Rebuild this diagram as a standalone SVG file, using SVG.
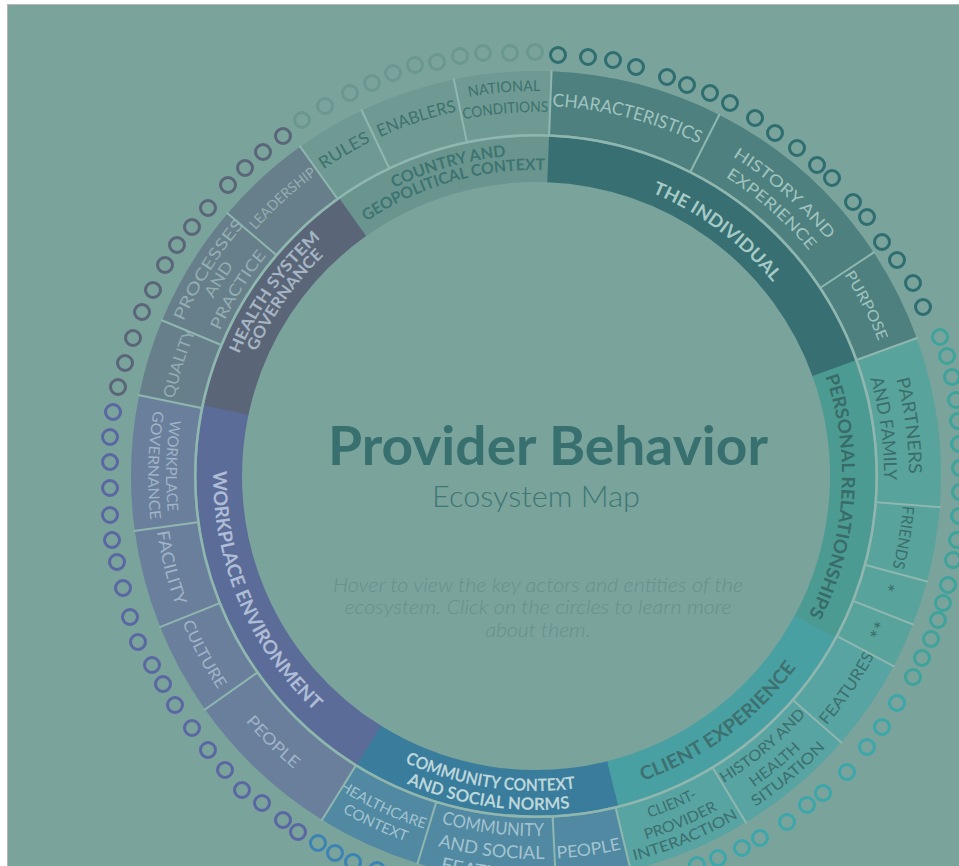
<svg xmlns="http://www.w3.org/2000/svg" width="959" height="866" viewBox="0 0 959 866">
<style>
  .arc{fill:none}
  .in{stroke-width:45.5}
  .out{stroke-width:63}
  .sep{stroke:#8fb7b0;stroke-width:2}
  .dot{fill:none;stroke-width:3}
  text{font-family:Lato,'Open Sans','DejaVu Sans',sans-serif;text-anchor:middle}
  .lb{font-weight:700}
  .lo{font-weight:400}
  .d-country{stroke:#6a9891}
  .d-ind{stroke:#2e6d70}
  .d-pers{stroke:#3ea39a}
  .d-client{stroke:#3ca7aa}
  .d-comm{stroke:#3b83b2}
  .d-work{stroke:#5a67a2}
  .d-health{stroke:#5a6579}
</style>
<defs>
  <!-- label baselines: clockwise arcs centred on 12 o'clock (O) and counter-clockwise arcs centred on 6 o'clock (I) -->
  <path id="O306" d="M271,323 A306,306 0 0 1 801,323"/>
  <path id="O321" d="M258,315.5 A321,321 0 0 1 814,315.5"/>
  <path id="O348" d="M234.6,302 A348,348 0 0 1 837.4,302"/>
  <path id="O354" d="M229.4,299 A354,354 0 0 1 842.6,299"/>
  <path id="O360" d="M224.2,296 A360,360 0 0 1 847.8,296"/>
  <path id="O364" d="M220.8,294 A364,364 0 0 1 851.2,294"/>
  <path id="O368" d="M217.3,292 A368,368 0 0 1 854.7,292"/>
  <path id="O370" d="M215.6,291 A370,370 0 0 1 856.4,291"/>
  <path id="O373" d="M213,289.5 A373,373 0 0 1 859,289.5"/>
  <path id="O375" d="M211.2,288.5 A375,375 0 0 1 860.8,288.5"/>
  <path id="O385" d="M202.6,283.5 A385,385 0 0 1 869.4,283.5"/>
  <path id="I315" d="M263.2,633.5 A315,315 0 0 0 808.8,633.5"/>
  <path id="I323" d="M256.3,637.5 A323,323 0 0 0 815.7,637.5"/>
  <path id="I334" d="M246.8,643 A334,334 0 0 0 825.2,643"/>
  <path id="I360" d="M224.2,656 A360,360 0 0 0 847.8,656"/>
  <path id="I370" d="M215.6,661 A370,370 0 0 0 856.4,661"/>
  <path id="I380" d="M206.9,666 A380,380 0 0 0 865.1,666"/>
  <path id="I383" d="M204.3,667.5 A383,383 0 0 0 867.7,667.5"/>
  <path id="I388" d="M200,670 A388,388 0 0 0 872,670"/>
  <path id="I397" d="M192.2,674.5 A397,397 0 0 0 879.8,674.5"/>
  <path id="I405" d="M185.3,678.5 A405,405 0 0 0 886.7,678.5"/>
  <line id="tick" x1="536" y1="134.5" x2="536" y2="70"/>
</defs>

<!-- page frame -->
<rect width="959" height="866" fill="#ffffff"/>
<rect x="7" y="4" width="952" height="862" fill="#b5b5b5"/>
<rect x="8" y="5" width="951" height="861" fill="#7aa39c"/>

<!-- COUNTRY AND GEOPOLITICAL CONTEXT -->
<g id="sector-country">
  <g id="country-core">
    <circle class="arc in" cx="536" cy="476" r="316.75" stroke="#6a958f" stroke-dasharray="209.4 3000" transform="rotate(234.5 536 476)"/>
    <text class="lb" font-size="16" fill="#3e7470" transform="rotate(-15.8 536 476)"><textPath href="#O321" startOffset="50%" textLength="117" lengthAdjust="spacingAndGlyphs">COUNTRY AND</textPath></text>
    <text class="lb" font-size="16" fill="#3e7470" transform="rotate(-16 536 476)"><textPath href="#O306" startOffset="50%" textLength="189" lengthAdjust="spacingAndGlyphs">GEOPOLITICAL CONTEXT</textPath></text>
  </g>
  <g id="rules">
    <circle class="arc out" cx="536" cy="476" r="373.5" stroke="#6e9a93" stroke-dasharray="66.8 3000" transform="rotate(234.4 536 476)"/>
    <text class="lo" font-size="17" fill="#3e726d" transform="rotate(-30.5 536 476)"><textPath href="#O373" startOffset="50%" textLength="55" lengthAdjust="spacingAndGlyphs">RULES</textPath></text>
  </g>
  <g id="enablers">
    <circle class="arc out" cx="536" cy="476" r="373.5" stroke="#6e9a93" stroke-dasharray="91 3000" transform="rotate(244.5 536 476)"/>
    <text class="lo" font-size="17" fill="#3e726d" transform="rotate(-18.5 536 476)"><textPath href="#O373" startOffset="50%" textLength="81" lengthAdjust="spacingAndGlyphs">ENABLERS</textPath></text>
  </g>
  <g id="national-conditions">
    <circle class="arc out" cx="536" cy="476" r="373.5" stroke="#6e9a93" stroke-dasharray="91.6 3000" transform="rotate(258.3 536 476)"/>
    <text class="lo" font-size="15" fill="#3e726d" transform="rotate(-4.7 536 476)"><textPath href="#O385" startOffset="50%" textLength="72" lengthAdjust="spacingAndGlyphs">NATIONAL</textPath></text>
    <text class="lo" font-size="15" fill="#3e726d" transform="rotate(-4.8 536 476)"><textPath href="#O364" startOffset="50%" textLength="85" lengthAdjust="spacingAndGlyphs">CONDITIONS</textPath></text>
  </g>
  <g class="dot d-country">
    <circle cx="302" cy="120" r="7.5"/><circle cx="325" cy="106" r="7.5"/><circle cx="350" cy="93" r="7.5"/>
    <circle cx="372" cy="83" r="7.5"/><circle cx="393" cy="73" r="7.5"/><circle cx="415" cy="65" r="7.5"/>
    <circle cx="437" cy="62" r="7.5"/><circle cx="460" cy="56" r="7.5"/><circle cx="483" cy="53" r="7.5"/>
    <circle cx="510" cy="53" r="7.5"/><circle cx="535" cy="52" r="7.5"/>
  </g>
</g>

<!-- THE INDIVIDUAL -->
<g id="sector-individual">
  <g id="individual-core">
    <circle class="arc in" cx="536" cy="476" r="316.75" stroke="#376f72" stroke-dasharray="376.4 3000" transform="rotate(-87.8 536 476)"/>
    <text class="lb" font-size="18" fill="#a6cbc6" transform="rotate(36.5 536 476)"><textPath href="#O306" startOffset="50%" textLength="152" lengthAdjust="spacingAndGlyphs">THE INDIVIDUAL</textPath></text>
  </g>
  <g id="characteristics">
    <circle class="arc out" cx="536" cy="476" r="373.5" stroke="#4d807e" stroke-dasharray="162 3000" transform="rotate(-87.8 536 476)"/>
    <text class="lo" font-size="18" fill="#a0c4bf" transform="rotate(14.3 536 476)"><textPath href="#O370" startOffset="50%" textLength="152" lengthAdjust="spacingAndGlyphs">CHARACTERISTICS</textPath></text>
  </g>
  <g id="history-experience">
    <circle class="arc out" cx="536" cy="476" r="373.5" stroke="#4d807e" stroke-dasharray="194 3000" transform="rotate(-63.1 536 476)"/>
    <text class="lo" font-size="16" fill="#a0c4bf" transform="rotate(41.3 536 476)"><textPath href="#O375" startOffset="50%" textLength="127" lengthAdjust="spacingAndGlyphs">HISTORY AND</textPath></text>
    <text class="lo" font-size="16" fill="#a0c4bf" transform="rotate(41.4 536 476)"><textPath href="#O354" startOffset="50%" textLength="112" lengthAdjust="spacingAndGlyphs">EXPERIENCE</textPath></text>
  </g>
  <g id="purpose">
    <circle class="arc out" cx="536" cy="476" r="373.5" stroke="#4d807e" stroke-dasharray="89.7 3000" transform="rotate(-33.5 536 476)"/>
    <text class="lo" font-size="15" fill="#a0c4bf" transform="rotate(62.7 536 476)"><textPath href="#O368" startOffset="50%" textLength="75" lengthAdjust="spacingAndGlyphs">PURPOSE</textPath></text>
  </g>
  <g class="dot d-ind">
    <circle cx="558" cy="55" r="7.5"/><circle cx="588" cy="57" r="7.5"/><circle cx="613" cy="60" r="7.5"/>
    <circle cx="636" cy="67" r="7.5"/><circle cx="667" cy="77" r="7.5"/><circle cx="687" cy="85" r="7.5"/>
    <circle cx="710" cy="93" r="7.5"/><circle cx="730" cy="103" r="7.5"/><circle cx="755" cy="118" r="7.5"/>
    <circle cx="775" cy="133" r="7.5"/><circle cx="797" cy="148" r="7.5"/><circle cx="817" cy="165" r="7.5"/>
    <circle cx="832" cy="178" r="7.5"/><circle cx="853" cy="202" r="7.5"/><circle cx="867" cy="217" r="7.5"/>
    <circle cx="882" cy="242" r="7.5"/><circle cx="897" cy="260" r="7.5"/><circle cx="913" cy="283" r="7.5"/>
    <circle cx="923" cy="307" r="7.5"/>
  </g>
</g>

<!-- PERSONAL RELATIONSHIPS -->
<g id="sector-personal">
  <g id="personal-core">
    <circle class="arc in" cx="536" cy="476" r="316.75" stroke="#4b9b93" stroke-dasharray="268 3000" transform="rotate(-19.9 536 476)"/>
    <text class="lb" font-size="18" fill="#386c69" transform="rotate(94 536 476)"><textPath href="#O306" startOffset="50%" textLength="246" lengthAdjust="spacingAndGlyphs">PERSONAL RELATIONSHIPS</textPath></text>
  </g>
  <g id="partners-family">
    <circle class="arc out" cx="536" cy="476" r="373.5" stroke="#58a39b" stroke-dasharray="159.4 3000" transform="rotate(-19.9 536 476)"/>
    <text class="lo" font-size="18" fill="#3b6e6b" transform="rotate(82.3 536 476)"><textPath href="#O373" startOffset="50%" textLength="96" lengthAdjust="spacingAndGlyphs">PARTNERS</textPath></text>
    <text class="lo" font-size="18" fill="#3b6e6b" transform="rotate(82.2 536 476)"><textPath href="#O348" startOffset="50%" textLength="103" lengthAdjust="spacingAndGlyphs">AND FAMILY</textPath></text>
  </g>
  <g id="friends">
    <circle class="arc out" cx="536" cy="476" r="373.5" stroke="#58a39b" stroke-dasharray="70.8 3000" transform="rotate(4.4 536 476)"/>
    <text class="lo" font-size="16" fill="#3b6e6b" transform="rotate(99.5 536 476)"><textPath href="#O368" startOffset="50%" textLength="63" lengthAdjust="spacingAndGlyphs">FRIENDS</textPath></text>
  </g>
  <g id="other-1">
    <circle class="arc out" cx="536" cy="476" r="373.5" stroke="#58a39b" stroke-dasharray="42.7 3000" transform="rotate(15.1 536 476)"/>
    <text class="lo" font-size="21" fill="#3b6e6b" transform="rotate(107.5 536 476)"><textPath href="#O360" startOffset="50%">*</textPath></text>
  </g>
  <g id="other-2">
    <circle class="arc out" cx="536" cy="476" r="373.5" stroke="#58a39b" stroke-dasharray="43.4 3000" transform="rotate(21.5 536 476)"/>
    <text class="lo" font-size="21" fill="#3b6e6b" transform="rotate(114.3 536 476)"><textPath href="#O360" startOffset="50%">**</textPath></text>
  </g>
  <g class="dot d-pers">
    <circle cx="940" cy="337" r="7.5"/><circle cx="947" cy="356" r="7.5"/><circle cx="952" cy="377" r="7.5"/>
    <circle cx="956" cy="400" r="7.5"/><circle cx="958" cy="421" r="7.5"/><circle cx="959" cy="444" r="7.5"/>
    <circle cx="960" cy="468" r="7.5"/><circle cx="960" cy="492" r="7.5"/><circle cx="959" cy="516" r="7.5"/>
    <circle cx="957" cy="540" r="7.5"/><circle cx="953" cy="560" r="7.5"/><circle cx="948" cy="585" r="7.5"/>
    <circle cx="943" cy="603" r="7.5"/><circle cx="938" cy="620" r="7.5"/><circle cx="931" cy="639" r="7.5"/>
    <circle cx="922" cy="658" r="7.5"/><circle cx="913" cy="677" r="7.5"/>
  </g>
</g>

<!-- CLIENT EXPERIENCE -->
<g id="sector-client">
  <g id="client-core">
    <circle class="arc in" cx="536" cy="476" r="316.75" stroke="#49a0a2" stroke-dasharray="264.1 3000" transform="rotate(28.4 536 476)"/>
    <text class="lb" font-size="19" fill="#3d716f" transform="rotate(-36.5 536 476)"><textPath href="#I323" startOffset="50%" textLength="194" lengthAdjust="spacingAndGlyphs">CLIENT EXPERIENCE</textPath></text>
  </g>
  <g id="features">
    <circle class="arc out" cx="536" cy="476" r="373.5" stroke="#58a4a2" stroke-dasharray="86.4 3000" transform="rotate(28 536 476)"/>
    <text class="lo" font-size="16" fill="#3c6f6d" transform="rotate(-55.7 536 476)"><textPath href="#I383" startOffset="50%" textLength="85" lengthAdjust="spacingAndGlyphs">FEATURES</textPath></text>
  </g>
  <g id="history-health">
    <circle class="arc out" cx="536" cy="476" r="373.5" stroke="#58a4a2" stroke-dasharray="116.4 3000" transform="rotate(41.1 536 476)"/>
    <text class="lo" font-size="15" fill="#3c6f6d" transform="rotate(-40 536 476)"><textPath href="#I360" startOffset="50%" textLength="108" lengthAdjust="spacingAndGlyphs">HISTORY AND</textPath></text>
    <text class="lo" font-size="15" fill="#3c6f6d" transform="rotate(-39.6 536 476)"><textPath href="#I380" startOffset="50%" textLength="61" lengthAdjust="spacingAndGlyphs">HEALTH</textPath></text>
    <text class="lo" font-size="15" fill="#3c6f6d" transform="rotate(-40.2 536 476)"><textPath href="#I397" startOffset="50%" textLength="92" lengthAdjust="spacingAndGlyphs">SITUATION</textPath></text>
  </g>
  <g id="client-provider">
    <circle class="arc out" cx="536" cy="476" r="373.5" stroke="#58a4a2" stroke-dasharray="116.4 3000" transform="rotate(58.8 536 476)"/>
    <text class="lo" font-size="15" fill="#3c6f6d" transform="rotate(-22.5 536 476)"><textPath href="#I360" startOffset="50%" textLength="52" lengthAdjust="spacingAndGlyphs">CLIENT-</textPath></text>
    <text class="lo" font-size="15" fill="#3c6f6d" transform="rotate(-22.7 536 476)"><textPath href="#I380" startOffset="50%" textLength="78" lengthAdjust="spacingAndGlyphs">PROVIDER</textPath></text>
    <text class="lo" font-size="15" fill="#3c6f6d" transform="rotate(-22.5 536 476)"><textPath href="#I397" startOffset="50%" textLength="113" lengthAdjust="spacingAndGlyphs">INTERACTION</textPath></text>
  </g>
  <g class="dot d-client">
    <circle cx="897" cy="703" r="7.5"/><circle cx="882" cy="727" r="7.5"/><circle cx="867" cy="747" r="7.5"/>
    <circle cx="847" cy="772" r="7.5"/><circle cx="823" cy="793" r="7.5"/><circle cx="807" cy="805" r="7.5"/>
    <circle cx="787" cy="822" r="7.5"/><circle cx="760" cy="838" r="7.5"/><circle cx="742" cy="848" r="7.5"/>
    <circle cx="718" cy="858" r="7.5"/><circle cx="697" cy="865" r="7.5"/>
  </g>
</g>

<!-- COMMUNITY CONTEXT AND SOCIAL NORMS -->
<g id="sector-community">
  <g id="community-core">
    <circle class="arc in" cx="536" cy="476" r="316.75" stroke="#3a7c9c" stroke-dasharray="254.2 3000" transform="rotate(76 536 476)"/>
    <text class="lb" font-size="17" fill="#bcd7da" transform="rotate(8.7 536 476)"><textPath href="#I315" startOffset="50%" textLength="175" lengthAdjust="spacingAndGlyphs">COMMUNITY CONTEXT</textPath></text>
    <text class="lb" font-size="17" fill="#bcd7da" transform="rotate(8.5 536 476)"><textPath href="#I334" startOffset="50%" textLength="167" lengthAdjust="spacingAndGlyphs">AND SOCIAL NORMS</textPath></text>
  </g>
  <g id="community-people">
    <circle class="arc out" cx="536" cy="476" r="373.5" stroke="#5089a1" stroke-dasharray="70.8 3000" transform="rotate(76.5 536 476)"/>
    <text class="lo" font-size="17" fill="#a3c3cf" transform="rotate(-8 536 476)"><textPath href="#I383" startOffset="50%" textLength="65" lengthAdjust="spacingAndGlyphs">PEOPLE</textPath></text>
  </g>
  <g id="community-social">
    <circle class="arc out" cx="536" cy="476" r="373.5" stroke="#5089a1" stroke-dasharray="130.1 3000" transform="rotate(87.2 536 476)"/>
    <text class="lo" font-size="18" fill="#a3c3cf" transform="rotate(7 536 476)"><textPath href="#I360" startOffset="50%" textLength="104" lengthAdjust="spacingAndGlyphs">COMMUNITY</textPath></text>
    <text class="lo" font-size="18" fill="#a3c3cf" transform="rotate(6.8 536 476)"><textPath href="#I383" startOffset="50%" textLength="108" lengthAdjust="spacingAndGlyphs">AND SOCIAL</textPath></text>
    <text class="lo" font-size="18" fill="#a3c3cf" transform="rotate(7 536 476)"><textPath href="#I405" startOffset="50%" textLength="95" lengthAdjust="spacingAndGlyphs">FEATURES</textPath></text>
  </g>
  <g id="healthcare-context">
    <circle class="arc out" cx="536" cy="476" r="373.5" stroke="#5089a1" stroke-dasharray="98.1 3000" transform="rotate(107 536 476)"/>
    <text class="lo" font-size="14.5" fill="#a3c3cf" transform="rotate(24.9 536 476)"><textPath href="#I370" startOffset="50%" textLength="95" lengthAdjust="spacingAndGlyphs">HEALTHCARE</textPath></text>
    <text class="lo" font-size="14.5" fill="#a3c3cf" transform="rotate(24.8 536 476)"><textPath href="#I388" startOffset="50%" textLength="70" lengthAdjust="spacingAndGlyphs">CONTEXT</textPath></text>
  </g>
  <g class="dot d-comm">
    <circle cx="318" cy="843" r="7.5"/><circle cx="335" cy="853" r="7.5"/><circle cx="353" cy="862" r="7.5"/>
    <circle cx="377" cy="870" r="7.5"/>
  </g>
</g>

<!-- WORKPLACE ENVIRONMENT -->
<g id="sector-workplace">
  <g id="workplace-core">
    <circle class="arc in" cx="536" cy="476" r="316.75" stroke="#5b6c98" stroke-dasharray="389.1 3000" transform="rotate(121.8 536 476)"/>
    <text class="lb" font-size="19" fill="#aebcd6" transform="rotate(67.1 536 476)"><textPath href="#I323" startOffset="50%" textLength="268" lengthAdjust="spacingAndGlyphs">WORKPLACE ENVIRONMENT</textPath></text>
  </g>
  <g id="workplace-people">
    <circle class="arc out" cx="536" cy="476" r="373.5" stroke="#6a7f9b" stroke-dasharray="150.3 3000" transform="rotate(121.9 536 476)"/>
    <text class="lo" font-size="16" fill="#9fb4c8" transform="rotate(44.7 536 476)"><textPath href="#I380" startOffset="50%" textLength="68" lengthAdjust="spacingAndGlyphs">PEOPLE</textPath></text>
  </g>
  <g id="culture">
    <circle class="arc out" cx="536" cy="476" r="373.5" stroke="#6a7f9b" stroke-dasharray="87.7 3000" transform="rotate(144.8 536 476)"/>
    <text class="lo" font-size="16" fill="#9fb4c8" transform="rotate(61.8 536 476)"><textPath href="#I383" startOffset="50%" textLength="76" lengthAdjust="spacingAndGlyphs">CULTURE</textPath></text>
  </g>
  <g id="facility">
    <circle class="arc out" cx="536" cy="476" r="373.5" stroke="#6a7f9b" stroke-dasharray="92.9 3000" transform="rotate(158.1 536 476)"/>
    <text class="lo" font-size="17" fill="#9fb4c8" transform="rotate(75.9 536 476)"><textPath href="#I383" startOffset="50%" textLength="77" lengthAdjust="spacingAndGlyphs">FACILITY</textPath></text>
  </g>
  <g id="workplace-governance">
    <circle class="arc out" cx="536" cy="476" r="373.5" stroke="#6a7f9b" stroke-dasharray="126.8 3000" transform="rotate(172.2 536 476)"/>
    <text class="lo" font-size="15" fill="#9fb4c8" transform="rotate(91.6 536 476)"><textPath href="#I370" startOffset="50%" textLength="92" lengthAdjust="spacingAndGlyphs">WORKPLACE</textPath></text>
    <text class="lo" font-size="15" fill="#9fb4c8" transform="rotate(91.6 536 476)"><textPath href="#I388" startOffset="50%" textLength="110" lengthAdjust="spacingAndGlyphs">GOVERNANCE</textPath></text>
  </g>
  <g class="dot d-work">
    <circle cx="113" cy="412" r="7.5"/><circle cx="110" cy="437" r="7.5"/><circle cx="110" cy="462" r="7.5"/>
    <circle cx="110" cy="488" r="7.5"/><circle cx="110" cy="515" r="7.5"/><circle cx="112" cy="540" r="7.5"/>
    <circle cx="117" cy="562" r="7.5"/><circle cx="123" cy="588" r="7.5"/><circle cx="130" cy="617" r="7.5"/>
    <circle cx="138" cy="642" r="7.5"/><circle cx="152" cy="665" r="7.5"/><circle cx="163" cy="684" r="7.5"/>
    <circle cx="175" cy="705" r="7.5"/><circle cx="192" cy="728" r="7.5"/><circle cx="208" cy="750" r="7.5"/>
    <circle cx="225" cy="770" r="7.5"/><circle cx="242" cy="790" r="7.5"/><circle cx="262" cy="803" r="7.5"/>
    <circle cx="283" cy="820" r="7.5"/><circle cx="298" cy="832" r="7.5"/>
  </g>
</g>

<!-- HEALTH SYSTEM GOVERNANCE -->
<g id="sector-health">
  <g id="health-core">
    <circle class="arc in" cx="536" cy="476" r="316.75" stroke="#5a6678" stroke-dasharray="236 3000" transform="rotate(192 536 476)"/>
    <text class="lb" font-size="16" fill="#a6b5c3" transform="rotate(-54.9 536 476)"><textPath href="#O321" startOffset="50%" textLength="143" lengthAdjust="spacingAndGlyphs">HEALTH SYSTEM</textPath></text>
    <text class="lb" font-size="16" fill="#a6b5c3" transform="rotate(-55 536 476)"><textPath href="#O306" startOffset="50%" textLength="118" lengthAdjust="spacingAndGlyphs">GOVERNANCE</textPath></text>
  </g>
  <g id="quality">
    <circle class="arc out" cx="536" cy="476" r="373.5" stroke="#677f8a" stroke-dasharray="73.4 3000" transform="rotate(191.5 536 476)"/>
    <text class="lo" font-size="16" fill="#93aeb3" transform="rotate(-72.5 536 476)"><textPath href="#O370" startOffset="50%" textLength="71" lengthAdjust="spacingAndGlyphs">QUALITY</textPath></text>
  </g>
  <g id="processes-practice">
    <circle class="arc out" cx="536" cy="476" r="373.5" stroke="#677f8a" stroke-dasharray="117 3000" transform="rotate(202.6 536 476)"/>
    <text class="lo" font-size="16" fill="#93aeb3" transform="rotate(-57.8 536 476)"><textPath href="#O385" startOffset="50%" textLength="115" lengthAdjust="spacingAndGlyphs">PROCESSES</textPath></text>
    <text class="lo" font-size="16" fill="#93aeb3" transform="rotate(-58.2 536 476)"><textPath href="#O368" startOffset="50%" textLength="39" lengthAdjust="spacingAndGlyphs">AND</textPath></text>
    <text class="lo" font-size="16" fill="#93aeb3" transform="rotate(-58 536 476)"><textPath href="#O348" startOffset="50%" textLength="89" lengthAdjust="spacingAndGlyphs">PRACTICE</textPath></text>
  </g>
  <g id="leadership">
    <circle class="arc out" cx="536" cy="476" r="373.5" stroke="#677f8a" stroke-dasharray="92.3 3000" transform="rotate(220.4 536 476)"/>
    <text class="lo" font-size="14" fill="#93aeb3" transform="rotate(-42.4 536 476)"><textPath href="#O373" startOffset="50%" textLength="83" lengthAdjust="spacingAndGlyphs">LEADERSHIP</textPath></text>
  </g>
  <g class="dot d-health">
    <circle cx="283" cy="136" r="7.5"/><circle cx="263" cy="152" r="7.5"/><circle cx="245" cy="168" r="7.5"/>
    <circle cx="228" cy="185" r="7.5"/><circle cx="208" cy="208" r="7.5"/><circle cx="192" cy="227" r="7.5"/>
    <circle cx="177" cy="245" r="7.5"/><circle cx="165" cy="265" r="7.5"/><circle cx="153" cy="290" r="7.5"/>
    <circle cx="142" cy="312" r="7.5"/><circle cx="133" cy="338" r="7.5"/><circle cx="125" cy="363" r="7.5"/>
    <circle cx="118" cy="387" r="7.5"/>
  </g>
</g>

<!-- light rules between the two rings and between outer segments -->
<g id="dividers" class="sep">
  <circle cx="536" cy="476" r="340.75" fill="none" stroke-width="2.5"/>
  <use href="#tick" transform="rotate(324.4 536 476)"/>
  <use href="#tick" transform="rotate(334.5 536 476)"/>
  <use href="#tick" transform="rotate(348.3 536 476)"/>
  <use href="#tick" transform="rotate(2.2 536 476)"/>
  <use href="#tick" transform="rotate(26.9 536 476)"/>
  <use href="#tick" transform="rotate(56.5 536 476)"/>
  <use href="#tick" transform="rotate(70.1 536 476)"/>
  <use href="#tick" transform="rotate(94.4 536 476)"/>
  <use href="#tick" transform="rotate(105.1 536 476)"/>
  <use href="#tick" transform="rotate(111.5 536 476)"/>
  <use href="#tick" transform="rotate(118 536 476)"/>
  <use href="#tick" transform="rotate(131.1 536 476)"/>
  <use href="#tick" transform="rotate(148.8 536 476)"/>
  <use href="#tick" transform="rotate(166.5 536 476)"/>
  <use href="#tick" transform="rotate(177.2 536 476)"/>
  <use href="#tick" transform="rotate(197 536 476)"/>
  <use href="#tick" transform="rotate(211.9 536 476)"/>
  <use href="#tick" transform="rotate(234.8 536 476)"/>
  <use href="#tick" transform="rotate(248.1 536 476)"/>
  <use href="#tick" transform="rotate(262.2 536 476)"/>
  <use href="#tick" transform="rotate(281.5 536 476)"/>
  <use href="#tick" transform="rotate(292.6 536 476)"/>
  <use href="#tick" transform="rotate(310.4 536 476)"/>
</g>

<!-- centre title -->
<g id="title">
  <text x="548" y="465" font-size="54" font-weight="700" fill="#37706f" textLength="440" lengthAdjust="spacingAndGlyphs">Provider Behavior</text>
  <text x="536" y="507" font-size="29" font-weight="300" fill="#3f7773" textLength="208" lengthAdjust="spacingAndGlyphs">Ecosystem Map</text>
  <g font-size="19" font-style="italic" font-weight="300" fill="#64918b">
    <text x="538" y="592" textLength="410" lengthAdjust="spacingAndGlyphs">Hover to view the key actors and entities of the</text>
    <text x="538" y="614" textLength="387" lengthAdjust="spacingAndGlyphs">ecosystem. Click on the circles to learn more</text>
    <text x="538" y="637" textLength="105" lengthAdjust="spacingAndGlyphs">about them.</text>
  </g>
</g>
</svg>
